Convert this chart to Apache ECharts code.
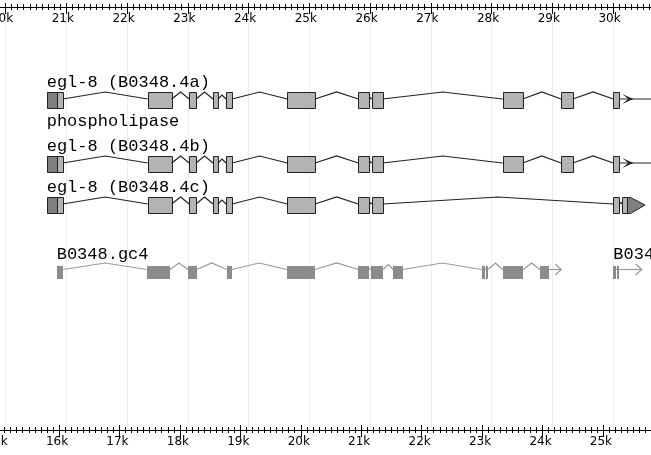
<!DOCTYPE html>
<html>
<head>
<meta charset="utf-8">
<title>B0348 region</title>
<script src="https://cdn.jsdelivr.net/npm/echarts@6.0.0/dist/echarts.min.js"></script>
<style>
  html, body { margin: 0; padding: 0; background: #fff; }
  #main { width: 651px; height: 455px; }
</style>
</head>
<body>
<div id="main"></div>
<script>
// rulers: top one is the clone coordinate, bottom one is shifted
const topRange = [19000, 31000];
const bottomRange = [15000, 26000];
const tickStep = 1000;

// egl-8 transcripts, [start, end] in bp (top ruler units)
const utr4a = [[20678, 20843]];
const cds4a = [[20843, 20942], [22341, 22736], [23026, 23136], [23416, 23498], [23630, 23728],
  [24639, 25095], [25807, 25988], [26028, 26209], [28184, 28514], [29144, 29337], [30005, 30104]];
const end4a = 31400; // runs past the right edge

const utr4b = [[20678, 20843]];
const cds4b = [[20843, 20942], [22341, 22736], [23026, 23136], [23416, 23498], [23630, 23728],
  [24639, 25095], [25807, 25988], [26028, 26209], [28184, 28514], [29144, 29337], [30005, 30104]];
const end4b = 31400;

const utr4c = [[20678, 20843]];
const cds4c = [[20843, 20942], [22341, 22736], [23026, 23136], [23416, 23498], [23630, 23728],
  [24639, 25095], [25807, 25988], [26028, 26209], [30005, 30104], [30153, 30235]];
const tip4c = [[30235, 30531]];

// gene predictions
const exonsGc4 = [[20843, 20951], [22324, 22708], [23004, 23147], [23641, 23723], [24629, 25095],
  [25807, 25988], [26012, 26219], [26383, 26538], [27839, 27893], [27905, 27947],
  [28184, 28523], [28798, 28951]];
const endGc4 = 29147;
const exonsGc5 = [[30005, 30049], [30066, 30104]];
const endGc5 = 30472;

const K_CDS = 0, K_UTR = 1, K_TIP = 2, K_INTRON = 3, K_TAIL = 4, K_OPEN = 5;

function tag(list, kind) {
  return list.map(b => [b[0], b[1], kind]);
}

function buildSegments(blocks, end, tailKind) {
  blocks.sort((p, q) => p[0] - q[0]);
  const out = [];
  blocks.forEach((b, i) => {
    if (i > 0 && blocks[i - 1][1] < b[0]) out.push([blocks[i - 1][1], b[0], K_INTRON]);
    out.push(b);
  });
  const last = blocks[blocks.length - 1][1];
  if (end && end > last) out.push([last, end, tailKind]);
  return out;
}

const geneStyle = { fill: '#b3b3b3', utr: '#7f7f7f', stroke: '#222', line: '#222', base: -1, peak: -8 };
const predStyle = { fill: '#8c8c8c', utr: '#8c8c8c', stroke: null, line: '#999', base: -2.5, peak: -9 };

const tracks = [
  { name: 'egl-8 (B0348.4a)', note: 'phospholipase', start: 20678, cy: 100, h: 16, st: geneStyle,
    data: buildSegments(tag(utr4a, K_UTR).concat(tag(cds4a, K_CDS)), end4a, K_TAIL) },
  { name: 'egl-8 (B0348.4b)', start: 20678, cy: 164, h: 16, st: geneStyle,
    data: buildSegments(tag(utr4b, K_UTR).concat(tag(cds4b, K_CDS)), end4b, K_TAIL) },
  { name: 'egl-8 (B0348.4c)', start: 20678, cy: 205, h: 16, st: geneStyle,
    data: buildSegments(tag(utr4c, K_UTR).concat(tag(cds4c, K_CDS), tag(tip4c, K_TIP)), 0) },
  { name: 'B0348.gc4', start: 20843, cy: 272, h: 13, st: predStyle,
    data: buildSegments(tag(exonsGc4, K_CDS), endGc4, K_OPEN) },
  { name: 'B0348.gc5', start: 30005, cy: 272, h: 13, st: predStyle,
    data: buildSegments(tag(exonsGc5, K_CDS), endGc5, K_OPEN) }
];

const labelFont = '17px "Liberation Mono", monospace';

function makeRender(t) {
  const st = t.st;
  return function (params, api) {
    const x1 = api.coord([api.value(0), 0])[0];
    const x2 = api.coord([api.value(1), 0])[0];
    const kind = api.value(2);
    const cy = t.cy, hh = t.h / 2;
    const top = Math.round(cy - hh) + (st.stroke ? 0.5 : 0);
    const kids = [];
    const lineY = cy + st.base;
    if (kind === K_CDS || kind === K_UTR) {
      const rx = Math.round(x1) + (st.stroke ? 0.5 : 0);
      kids.push({
        type: 'rect',
        shape: { x: rx, y: top, width: Math.max(1, Math.round(x2) - Math.round(x1)), height: t.h },
        style: { fill: kind === K_UTR ? st.utr : st.fill, stroke: st.stroke, lineWidth: 1 }
      });
    } else if (kind === K_TIP) {
      const a = Math.round(x1) + 0.5, b = Math.round(x2);
      kids.push({
        type: 'polygon',
        shape: { points: [[a, top], [a + 3, top], [b, cy], [a + 3, top + t.h], [a, top + t.h]] },
        style: { fill: st.utr, stroke: st.stroke, lineWidth: 1 }
      });
    } else if (kind === K_INTRON) {
      // hat-shaped connector; very short gaps get a flatter hat
      const rise = Math.min(lineY - (cy + st.peak), (x2 - x1) * 0.5);
      kids.push({
        type: 'polyline',
        shape: { points: [[x1, lineY], [(x1 + x2) / 2, lineY - rise], [x2, lineY]] },
        style: { stroke: st.line, lineWidth: 1.2, fill: null }
      });
    } else if (kind === K_TAIL) {
      kids.push({
        type: 'line',
        shape: { x1: x1, y1: lineY, x2: x2, y2: lineY },
        style: { stroke: st.line, lineWidth: 1.2 }
      });
      kids.push({
        type: 'polygon',
        shape: { points: [[x1 + 3, lineY - 5], [x1 + 14, lineY], [x1 + 3, lineY + 5], [x1 + 9, lineY]] },
        style: { fill: st.line }
      });
    } else if (kind === K_OPEN) {
      kids.push({
        type: 'line',
        shape: { x1: x1, y1: lineY, x2: x2, y2: lineY },
        style: { stroke: st.line, lineWidth: 1.2 }
      });
      kids.push({
        type: 'polyline',
        shape: { points: [[x2 - 6, lineY - 5.5], [x2, lineY], [x2 - 6, lineY + 5.5]] },
        style: { stroke: st.line, lineWidth: 1.2, fill: null }
      });
    }
    if (params.dataIndex === 0) {
      const lx = api.coord([t.start, 0])[0];
      kids.push({
        type: 'text',
        style: { x: lx, y: cy - 17.5, text: t.name, font: labelFont, fill: '#000',
          align: 'left', verticalAlign: 'middle' }
      });
      if (t.note) {
        kids.push({
          type: 'text',
          style: { x: lx, y: cy + 21.5, text: t.note, font: labelFont, fill: '#000',
            align: 'left', verticalAlign: 'middle' }
        });
      }
    }
    return { type: 'group', children: kids };
  };
}

const kFormat = v => (v / 1000) + 'k';
const axisFont = { fontFamily: 'DejaVu Sans', fontSize: 12, color: '#000' };

const chart = echarts.init(document.getElementById('main'));

const option = {
  animation: false,
  backgroundColor: '#fff',
  grid: [
    { left: -55.25, right: -22.75, top: 7, bottom: 25, outerBoundsMode: 'none', containLabel: false },
    { left: -1.44, right: -12.4, top: 7, bottom: 25, outerBoundsMode: 'none', containLabel: false }
  ],
  xAxis: [
    {
      gridIndex: 0, type: 'value', position: 'top', min: topRange[0], max: topRange[1], interval: tickStep,
      axisLine: { show: true, onZero: false, lineStyle: { color: '#000', width: 1 } },
      axisTick: { show: true, inside: true, length: 7, lineStyle: { color: '#000' } },
      minorTick: { show: true, splitNumber: 10, length: 3, lineStyle: { color: '#000' } },
      axisLabel: Object.assign({ inside: true, margin: 6, formatter: kFormat, padding: [0, 7, 0, 0] }, axisFont),
      splitLine: { show: true, lineStyle: { color: '#eeeeee', width: 1 } }
    },
    {
      gridIndex: 0, type: 'value', position: 'top', min: topRange[0], max: topRange[1], interval: tickStep,
      axisLine: { show: false, onZero: false },
      axisTick: { show: true, inside: false, length: 4, lineStyle: { color: '#000' } },
      minorTick: { show: true, splitNumber: 10, length: 3, lineStyle: { color: '#000' } },
      axisLabel: { show: false },
      splitLine: { show: false }
    },
    {
      gridIndex: 1, type: 'value', position: 'bottom', min: bottomRange[0], max: bottomRange[1], interval: tickStep,
      axisLine: { show: true, onZero: false, lineStyle: { color: '#000', width: 1 } },
      axisTick: { show: true, inside: false, length: 7, lineStyle: { color: '#000' } },
      minorTick: { show: true, splitNumber: 10, length: 3, lineStyle: { color: '#000' } },
      axisLabel: Object.assign({ margin: 6, formatter: kFormat, padding: [0, 4, 0, 0] }, axisFont),
      splitLine: { show: false }
    },
    {
      gridIndex: 1, type: 'value', position: 'bottom', min: bottomRange[0], max: bottomRange[1], interval: tickStep,
      axisLine: { show: false, onZero: false },
      axisTick: { show: true, inside: true, length: 5, lineStyle: { color: '#000' } },
      minorTick: { show: true, splitNumber: 10, length: 3, lineStyle: { color: '#000' } },
      axisLabel: { show: false },
      splitLine: { show: false }
    }
  ],
  yAxis: [
    { gridIndex: 0, type: 'value', min: 7, max: 430, inverse: true, show: false },
    { gridIndex: 1, type: 'value', min: 0, max: 1, show: false }
  ],
  series: tracks.map(t => ({
    type: 'custom',
    name: t.name,
    xAxisIndex: 0,
    yAxisIndex: 0,
    clip: false,
    silent: true,
    renderItem: makeRender(t),
    encode: { x: [0, 1] },
    data: t.data
  }))
};

chart.setOption(option);
</script>
</body>
</html>
